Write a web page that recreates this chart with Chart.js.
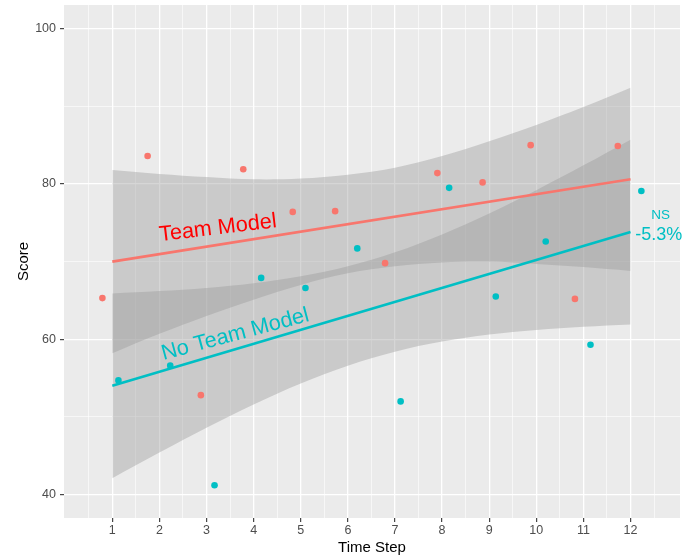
<!DOCTYPE html>
<html>
<head>
<meta charset="utf-8">
<script src="https://cdn.jsdelivr.net/npm/chart.js@4/dist/chart.umd.min.js"></script>
<style>
  html, body { margin: 0; padding: 0; background: #ffffff; }
  #wrap { width: 687px; height: 558px; }
</style>
</head>
<body>
<div id="wrap"><canvas id="chart" width="687" height="558"></canvas></div>
<script>
// Observed scores per time step (x slightly jittered so the groups don't overlap)
const teamX = [0.79, 1.75, 2.88, 3.78, 4.83, 5.73, 6.79, 7.90, 8.86, 9.88, 10.82, 11.73];
const teamScore = [65.3, 83.6, 52.8, 81.9, 76.4, 76.5, 69.8, 81.4, 80.2, 85.0, 65.2, 84.9];
const noTeamX = [1.13, 2.23, 3.17, 4.16, 5.10, 6.20, 7.12, 8.15, 9.14, 10.20, 11.15, 12.23];
const noTeamScore = [54.7, 56.6, 41.2, 67.9, 66.6, 71.7, 52.0, 79.5, 65.5, 72.6, 59.3, 79.1];

// Linear fits (end points) and their confidence bands
const fitX = [1, 12];
const teamFit = [70.0, 80.6];
const noTeamFit = [54.0, 73.8];
const bandX = [1, 2, 3, 4, 5, 6, 7, 8, 9, 10, 11, 12];
const teamUpper = [81.8, 81.3, 80.9, 80.6, 80.7, 81.2, 82.1, 83.6, 85.5, 87.6, 89.9, 92.4];
const teamLower = [58.2, 60.7, 63.0, 65.1, 67.0, 68.5, 69.4, 69.9, 70.0, 69.7, 69.3, 68.8];
const noTeamUpper = [65.9, 66.2, 66.6, 67.2, 68.1, 69.4, 71.2, 73.5, 76.2, 79.2, 82.4, 85.7];
const noTeamLower = [42.1, 45.4, 48.6, 51.6, 54.3, 56.6, 58.4, 59.7, 60.6, 61.2, 61.6, 61.9];

// Axis ticks
const xTickValues = [1, 2, 3, 4, 5, 6, 7, 8, 9, 10, 11, 12];
const yTickValues = [40, 60, 80, 100];

const RED = '#F8766D';
const CYAN = '#00BFC4';
const BAND = 'rgba(153,153,153,0.4)';
const FONT = '"Liberation Sans", Arial, Helvetica, sans-serif';

const pts = (xs, ys) => xs.map((x, i) => ({ x: x, y: ys[i] }));

const bandStyle = {
  showLine: true, pointRadius: 0, borderWidth: 0, borderColor: 'rgba(0,0,0,0)',
  backgroundColor: BAND, tension: 0.35, order: 10
};

// Text labels placed in data coordinates
const labels = [
  { text: 'Team Model', x: 3.24, y: 74.3, angle: -6.8, size: 21.7, color: '#FF0000' },
  { text: 'No Team Model', x: 3.61, y: 60.6, angle: -15, size: 21.7, color: CYAN },
  { text: 'NS', x: 12.64, y: 76.0, angle: 0, size: 13.5, color: CYAN },
  { text: '-5.3%', x: 12.6, y: 73.4, angle: 0, size: 18, color: CYAN }
];

const panelBackground = {
  id: 'panelBackground',
  beforeDraw(chart) {
    const a = chart.chartArea, ctx = chart.ctx;
    ctx.save();
    ctx.fillStyle = '#EBEBEB';
    ctx.fillRect(a.left, a.top, a.right - a.left, a.bottom - a.top);
    ctx.restore();
  }
};

const textLabels = {
  id: 'textLabels',
  afterDatasetsDraw(chart) {
    const ctx = chart.ctx, xs = chart.scales.x, ys = chart.scales.y;
    labels.forEach(l => {
      ctx.save();
      ctx.translate(xs.getPixelForValue(l.x), ys.getPixelForValue(l.y));
      ctx.rotate(l.angle * Math.PI / 180);
      ctx.font = l.size + 'px ' + FONT;
      ctx.fillStyle = l.color;
      ctx.textAlign = 'center';
      ctx.textBaseline = 'middle';
      ctx.fillText(l.text, 0, 0);
      ctx.restore();
    });
  }
};

const isMajorX = v => xTickValues.includes(v);
const isMajorY = v => yTickValues.includes(v);

new Chart(document.getElementById('chart'), {
  type: 'scatter',
  data: {
    datasets: [
      Object.assign({ data: pts(bandX, teamUpper), fill: '+1' }, bandStyle),
      Object.assign({}, bandStyle, { data: pts(bandX, teamLower), fill: false }),
      Object.assign({ data: pts(bandX, noTeamUpper), fill: '+1' }, bandStyle),
      Object.assign({}, bandStyle, { data: pts(bandX, noTeamLower), fill: false }),
      { data: pts(fitX, teamFit), showLine: true, pointRadius: 0, borderColor: RED, borderWidth: 2.6, order: 5 },
      { data: pts(fitX, noTeamFit), showLine: true, pointRadius: 0, borderColor: CYAN, borderWidth: 2.6, order: 5 },
      { data: pts(teamX, teamScore), pointRadius: 3.3, pointBorderWidth: 0, backgroundColor: RED, borderColor: RED, order: 1 },
      { data: pts(noTeamX, noTeamScore), pointRadius: 3.3, pointBorderWidth: 0, backgroundColor: CYAN, borderColor: CYAN, order: 1 }
    ]
  },
  options: {
    responsive: false,
    animation: false,
    devicePixelRatio: 1,
    layout: { padding: { left: 0, right: 7, top: 5, bottom: 0 } },
    plugins: { legend: { display: false }, tooltip: { enabled: false } },
    scales: {
      x: {
        type: 'linear', min: -0.025, max: 13.05,
        afterBuildTicks(scale) {
          const t = [];
          for (let v = 0.5; v <= 12.5; v += 0.5) t.push({ value: v });
          scale.ticks = t;
        },
        afterFit(scale) { scale.height = 40; scale.paddingLeft = 0; scale.paddingRight = 0; },
        border: { display: false },
        grid: {
          color: '#FFFFFF',
          lineWidth: c => isMajorX(c.tick.value) ? 1.3 : 0.6,
          tickColor: c => isMajorX(c.tick.value) ? '#333333' : 'rgba(0,0,0,0)',
          tickWidth: 1.1,
          tickLength: 4
        },
        ticks: {
          autoSkip: false, maxRotation: 0, padding: 1,
          color: '#4D4D4D', font: { family: FONT, size: 12.5 },
          callback: v => isMajorX(v) ? String(v) : ''
        },
        title: {
          display: true, text: 'Time Step', color: '#000000',
          font: { family: FONT, size: 15 }, padding: { top: 0, bottom: 1 }
        }
      },
      y: {
        type: 'linear', min: 36.98, max: 103.05,
        afterBuildTicks(scale) {
          const t = [];
          for (let v = 40; v <= 100; v += 10) t.push({ value: v });
          scale.ticks = t;
        },
        afterFit(scale) { scale.width = 64; scale.paddingTop = 0; scale.paddingBottom = 0; },
        border: { display: false },
        grid: {
          color: '#FFFFFF',
          lineWidth: c => isMajorY(c.tick.value) ? 1.3 : 0.6,
          tickColor: c => isMajorY(c.tick.value) ? '#333333' : 'rgba(0,0,0,0)',
          tickWidth: 1.1,
          tickLength: 4
        },
        ticks: {
          autoSkip: false, padding: 4,
          color: '#4D4D4D', font: { family: FONT, size: 12.5 },
          callback: v => isMajorY(v) ? String(v) : ''
        },
        title: {
          display: true, text: 'Score', color: '#000000',
          font: { family: FONT, size: 15 }, padding: { top: 15, bottom: 0 }
        }
      }
    }
  },
  plugins: [panelBackground, textLabels]
});
</script>
</body>
</html>
